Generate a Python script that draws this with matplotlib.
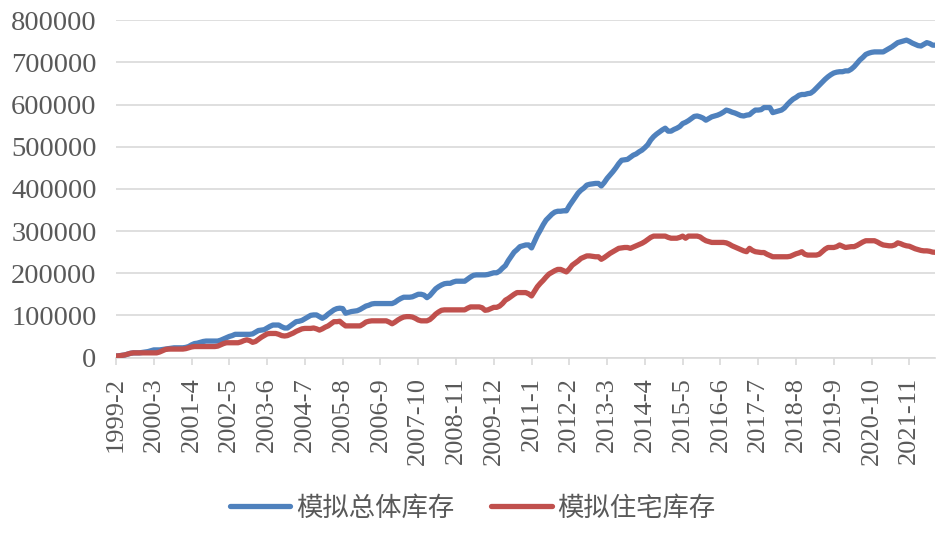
import numpy as np
import matplotlib
matplotlib.use("Agg")
import matplotlib.pyplot as plt

# monthly values, 1999-2 .. 2022-8, in thousands
total_k = [
    3.5, 4, 5, 6, 8, 10, 11, 11, 11, 12, 13,                 # 1999
    14, 16, 18, 18, 18, 19, 20, 21, 22, 23, 23, 23,          # 2000
    23, 24, 26, 30, 33, 34, 36, 38, 39, 39, 39, 39,          # 2001
    39, 41, 44, 47, 50, 52, 55, 55, 55, 55, 55, 55,          # 2002
    56, 60, 64, 65, 66, 70, 74, 77, 77, 77, 73, 70,          # 2003
    70, 75, 80, 85, 86, 88, 92, 96, 100, 101, 101, 97,       # 2004
    93, 97, 103, 108, 113, 116, 117, 116, 105, 107, 109, 110,  # 2005
    111, 114, 118, 122, 124, 127, 128, 128, 128, 128, 128, 128,  # 2006
    128, 131, 136, 140, 143, 143, 143, 144, 147, 150, 150, 148,  # 2007
    142, 147, 155, 163, 168, 172, 175, 176, 176, 179, 181, 181,  # 2008
    181, 181, 186, 191, 195, 196, 196, 196, 196, 197, 199, 201,  # 2009
    201, 205, 212, 218, 230, 240, 250, 256, 263, 265, 267, 267,  # 2010
    260, 275, 290, 302, 315, 326, 333, 340, 345, 347, 347, 348,  # 2011
    348, 360, 370, 380, 390, 397, 402, 409, 411, 412, 413, 413,  # 2012
    407, 415, 425, 433, 441, 450, 460, 468, 469, 470, 475, 480,  # 2013
    483, 488, 492, 498, 505, 516, 524, 530, 535, 540, 544, 537,  # 2014
    537, 541, 544, 548, 555, 558, 562, 567, 572, 573, 571, 568,  # 2015
    563, 567, 571, 573, 575, 578, 582, 587, 585, 582, 580, 577,  # 2016
    574, 573, 575, 576, 582, 587, 587, 588, 593, 593, 593, 581,  # 2017
    583, 585, 587, 592, 600, 607, 613, 617, 622, 624, 624, 626,  # 2018
    627, 632, 639, 646, 653, 660, 666, 671, 675, 677, 678, 678,  # 2019
    680, 680, 684, 690, 698, 706, 712, 719, 722, 724, 725, 725,  # 2020
    725, 725, 729, 733, 737, 742, 747, 749, 751, 753, 750, 746,  # 2021
    743, 740, 739, 743, 747, 745, 741, 741,                      # 2022
]

housing_k = [
    3.5, 4, 5, 6, 8, 10, 11, 11, 11, 11, 11,                 # 1999
    11, 11, 11, 11, 13, 16, 19, 20, 20, 20, 20, 20,          # 2000
    20, 21, 23, 25, 26, 26, 26, 26, 26, 26, 26, 26,          # 2001
    27, 30, 33, 35, 35, 35, 35, 35, 37, 40, 42, 40,          # 2002
    36, 38, 43, 48, 52, 56, 57, 57, 57, 55, 52, 51,          # 2003
    52, 55, 58, 62, 65, 68, 69, 69, 69, 70, 68, 65,          # 2004
    68, 72, 75, 80, 85, 85, 86, 80, 75, 75, 75, 75,          # 2005
    75, 75, 79, 84, 86, 87, 87, 87, 87, 87, 87, 84,          # 2006
    80, 84, 89, 93, 96, 97, 97, 96, 93, 89, 87, 87,          # 2007
    87, 90, 96, 103, 108, 112, 113, 113, 113, 113, 113, 113,  # 2008
    113, 113, 117, 120, 120, 120, 120, 118, 112, 113, 116, 119,  # 2009
    119, 122, 128, 136, 140, 145, 150, 154, 154, 154, 154, 151,  # 2010
    146, 157, 168, 176, 183, 191, 198, 202, 206, 209, 209, 206,  # 2011
    203, 210, 219, 224, 229, 235, 238, 241, 241, 240, 239, 239,  # 2012
    233, 237, 242, 247, 251, 255, 259, 260, 261, 261, 259, 262,  # 2013
    265, 268, 271, 275, 280, 285, 288, 288, 288, 288, 288, 285,  # 2014
    283, 283, 283, 285, 288, 283, 288, 288, 288, 288, 286, 281,  # 2015
    277, 275, 273, 273, 273, 273, 273, 272, 269, 265, 262, 259,  # 2016
    256, 253, 251, 259, 254, 251, 250, 249, 249, 245, 242, 239,  # 2017
    239, 239, 239, 239, 239, 240, 243, 246, 248, 251, 245, 243,  # 2018
    243, 243, 243, 245, 251, 257, 261, 261, 261, 263, 267, 264,  # 2019
    261, 262, 263, 263, 266, 270, 274, 277, 277, 277, 277, 274,  # 2020
    270, 267, 266, 265, 265, 267, 272, 270, 267, 265, 264, 261,  # 2021
    258, 256, 254, 253, 253, 252, 250, 249.5,                    # 2022
]

tick_labels = ["1999-2", "2000-3", "2001-4", "2002-5", "2003-6", "2004-7",
               "2005-8", "2006-9", "2007-10", "2008-11", "2009-12", "2011-1",
               "2012-2", "2013-3", "2014-4", "2015-5", "2016-6", "2017-7",
               "2018-8", "2019-9", "2020-10", "2021-11"]
series_names = ["模拟总体库存", "模拟住宅库存"]

total = np.array(total_k) * 1000
housing = np.array(housing_k) * 1000
x = np.arange(len(total))

grey = "#595959"
fig = plt.figure(figsize=(9.45, 5.34), dpi=100)
ax = fig.add_axes([116 / 945, 176.5 / 534, 819.5 / 945, 337.2 / 534])

ax.plot(x, total, color="#4f81bd", lw=3.8, solid_capstyle="round",
        solid_joinstyle="round", label=series_names[0], zorder=3)
ax.plot(x, housing, color="#c0504d", lw=3.8, solid_capstyle="round",
        solid_joinstyle="round", label=series_names[1], zorder=3)

ax.set_xlim(0, len(x) - 1)
ax.set_ylim(0, 800000)
ax.set_yticks(np.arange(0, 800001, 100000))
ax.yaxis.grid(True, color="#d9d9d9", lw=1.2)
ax.set_axisbelow(True)
for s in ["left", "right", "top"]:
    ax.spines[s].set_visible(False)
ax.spines["bottom"].set_color("#d9d9d9")
ax.spines["bottom"].set_linewidth(1.2)

ax.set_xticks(x[::13])
ax.set_xticklabels(tick_labels, rotation=90)
ax.tick_params(axis="x", length=5, width=1.2, color="#d9d9d9", pad=9)
ax.tick_params(axis="y", length=0, pad=14)
for lab in ax.get_xticklabels():
    lab.set_fontfamily("Liberation Serif")
    lab.set_fontsize(19)
    lab.set_color(grey)
for lab in ax.get_yticklabels():
    lab.set_fontfamily("Liberation Serif")
    lab.set_fontsize(20.5)
    lab.set_color(grey)

leg = fig.legend(loc="center", bbox_to_anchor=(0.5, 0.049), ncol=2,
                 frameon=False, handlelength=2.3, handletextpad=0.2,
                 columnspacing=1.4,
                 prop={"family": ["Noto Sans CJK SC", "DejaVu Sans"], "size": 19})
for t in leg.get_texts():
    t.set_color(grey)

fig.savefig("out.png", dpi=100)
